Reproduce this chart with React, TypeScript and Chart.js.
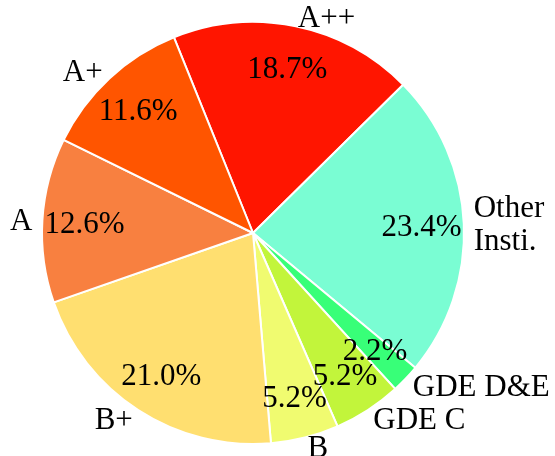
import React, { useEffect, useRef } from "react";
import { Chart, registerables } from "chart.js";

Chart.register(...registerables);

const categories: (string | string[])[] = ["A++", ["Other", "Insti."], "GDE D&E", "GDE C", "B", "B+", "A", "A+"];
const shares: number[] = [18.7, 23.4, 2.2, 5.2, 5.2, 21.0, 12.6, 11.6];
const colors: string[] = ["#ff1500", "#7afdd3", "#38ff78", "#c2f53b", "#f0fb70", "#ffdf70", "#f88040", "#ff5500"];

const FONT_SIZE = 31;
const FONT = `${FONT_SIZE}px 'Liberation Serif', 'Times New Roman', serif`;
const LINE_H = 33;
const PCT_DIST = 0.8;
const LABEL_DIST = 1.047;

const labelPlugin = {
  id: "pieLabels",
  afterDraw(chart: any) {
    const ctx = chart.ctx as CanvasRenderingContext2D;
    const meta = chart.getDatasetMeta(0);
    ctx.save();
    ctx.font = FONT;
    ctx.fillStyle = "#000";
    ctx.textBaseline = "alphabetic";
    const capHalf = FONT_SIZE * 0.33;
    meta.data.forEach((arc: any, i: number) => {
      const p = arc.getProps(["x", "y", "startAngle", "endAngle", "outerRadius"], true);
      const mid = (p.startAngle + p.endAngle) / 2;
      const cos = Math.cos(mid);
      const sin = Math.sin(mid);
      // outer label
      const lx = p.x + cos * p.outerRadius * LABEL_DIST;
      const ly = p.y + sin * p.outerRadius * LABEL_DIST;
      const lab = categories[i];
      const lines = Array.isArray(lab) ? lab : [lab];
      ctx.textAlign = lx >= p.x ? "left" : "right";
      const total = (lines.length - 1) * LINE_H;
      lines.forEach((ln, k) => {
        ctx.fillText(ln, lx, ly - total / 2 + k * LINE_H + capHalf);
      });
    });
    meta.data.forEach((arc: any, i: number) => {
      const p = arc.getProps(["x", "y", "startAngle", "endAngle", "outerRadius"], true);
      const mid = (p.startAngle + p.endAngle) / 2;
      const px = p.x + Math.cos(mid) * p.outerRadius * PCT_DIST;
      const py = p.y + Math.sin(mid) * p.outerRadius * PCT_DIST;
      ctx.textAlign = "center";
      ctx.fillText(shares[i].toFixed(1) + "%", px, py + capHalf);
    });
    ctx.restore();
  },
};

export default function App() {
  const ref = useRef<HTMLCanvasElement | null>(null);
  useEffect(() => {
    document.body.style.margin = "0";
    if (!ref.current) return;
    const chart = new Chart(ref.current, {
      type: "pie",
      data: {
        labels: categories as any,
        datasets: [
          {
            data: shares,
            backgroundColor: colors,
            borderColor: "#ffffff",
            borderWidth: 2,
          },
        ],
      },
      options: {
        animation: false,
        responsive: true,
        maintainAspectRatio: false,
        rotation: -22,
        layout: { padding: { left: 41, right: 90, top: 21, bottom: 11 } },
        plugins: { legend: { display: false }, tooltip: { enabled: false } },
      },
      plugins: [labelPlugin],
    });
    return () => chart.destroy();
  }, []);
  return (
    <div style={{ width: 555, height: 456, position: "relative", background: "#fff" }}>
      <canvas ref={ref} />
    </div>
  );
}
